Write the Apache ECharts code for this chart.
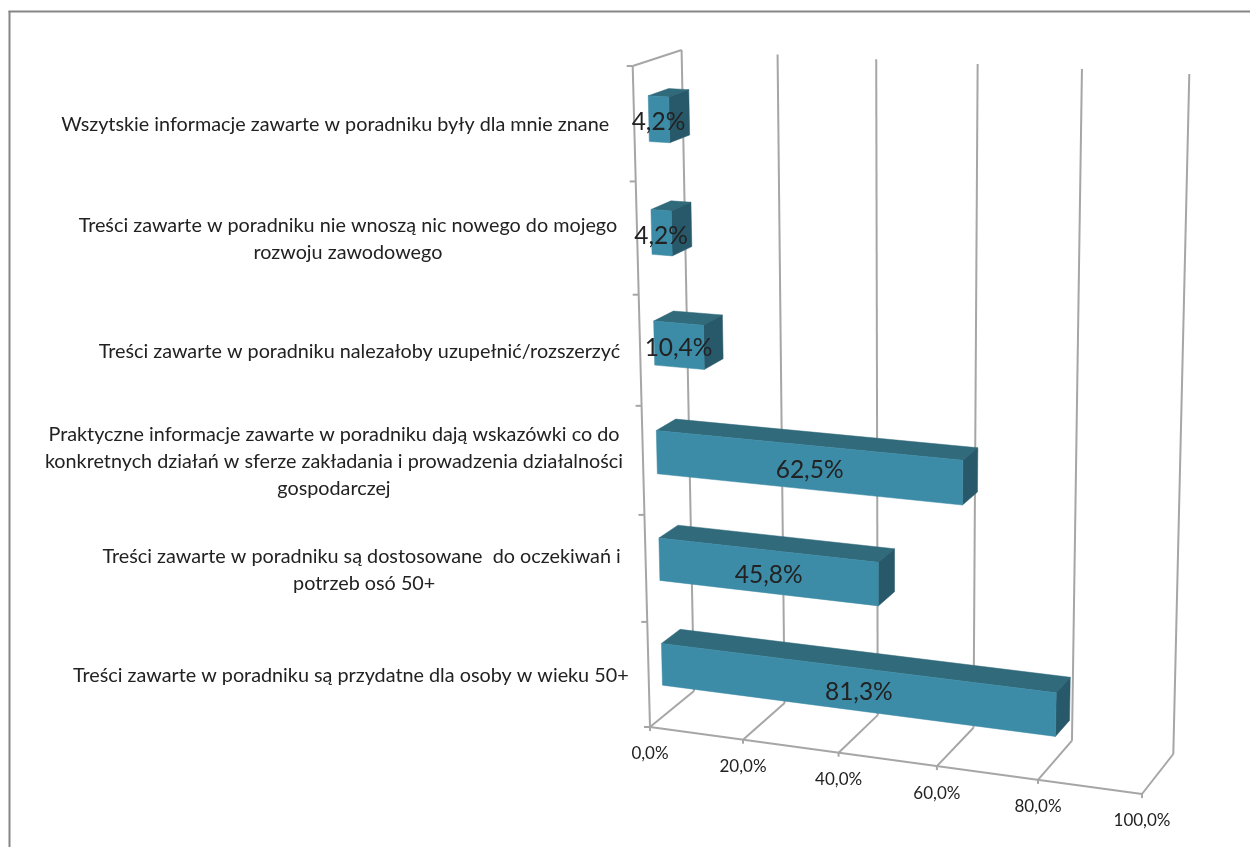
<!DOCTYPE html>
<html>
<head>
<meta charset="utf-8">
<style>html,body{margin:0;padding:0;background:#fff}#c{width:1250px;height:847px}</style>
<script src="https://cdn.jsdelivr.net/npm/echarts@6/dist/echarts.min.js"></script>
</head>
<body>
<div id="c"></div>
<script>
const categories = [
  "Wszytskie informacje zawarte w poradniku były dla mnie znane ",
  "Treści zawarte w poradniku nie wnoszą nic nowego do mojego\nrozwoju zawodowego",
  "Treści zawarte w poradniku nalezałoby uzupełnić/rozszerzyć",
  "Praktyczne informacje zawarte w poradniku dają wskazówki co do\nkonkretnych działań w sferze zakładania i prowadzenia działalności\ngospodarczej",
  "Treści zawarte w poradniku są dostosowane  do oczekiwań i \npotrzeb osó 50+",
  "Treści zawarte w poradniku są przydatne dla osoby w wieku 50+"
];
const values = [4.2, 4.2, 10.4, 62.5, 45.8, 81.3];
const valueTicks = [0, 20, 40, 60, 80, 100];

// Projection of the flat cartesian grid onto the drawn 3D box
const box = {
  flt: [632.7, 66], flb: [650, 727], frb: [1142, 794], frt: [1164, 94],
  blt: [681.6, 50], blb: [694, 691], brb: [1173.3, 754], brt: [1189.3, 74]
};
const warpV = 1.0725, warpU = 1.058;
const warp = (t, k) => t / (t + k * (1 - t));
const mix = (a, b, t) => [a[0] + (b[0] - a[0]) * t, a[1] + (b[1] - a[1]) * t];
function project(params, p, d) {
  const c = params.coordSys;
  const v = warp((p[0] - c.x) / c.width, warpV);
  const u = warp(1 - (p[1] - c.y) / c.height, warpU);
  const front = mix(mix(box.flb, box.frb, v), mix(box.flt, box.frt, v), u);
  const back = mix(mix(box.blb, box.brb, v), mix(box.blt, box.brt, v), u);
  return mix(front, back, d);
}
const FONT = "Lato";
const LINE = "#a6a6a6", LW = 2;
const TEXT = "#222222";
const line = (a, b) => ({type: 'line', silent: true, shape: {x1: a[0], y1: a[1], x2: b[0], y2: b[1]},
  style: {stroke: LINE, lineWidth: LW, fill: null}});
const label = (s, p, size, align) => ({type: 'text', silent: true, z2: 50, style: {
  text: s, x: p[0], y: p[1], align: align || 'center', verticalAlign: 'middle',
  textAlign: align || 'center', textVerticalAlign: 'middle',
  fontFamily: FONT, fontSize: size, fill: TEXT, lineHeight: 27}});
const poly = (pts, fill) => ({type: 'polygon', shape: {points: pts}, style: {fill: fill, stroke: fill, lineWidth: 0.5}});
const fmt = v => v.toFixed(1).replace('.', ',') + '%';

const measure = document.createElement('canvas').getContext('2d');
const CAT_SIZE = 19.8, VAL_SIZE = 17, BAR_SIZE = 24.5;

function renderValueAxis(params, api) {
  const v = api.value(0);
  const last = categories.length - 1;
  const bot = api.coord([v, last]), top = api.coord([v, 0]);
  const band = api.size([0, 1])[1];
  const pb = [bot[0], bot[1] + band / 2], pt = [top[0], top[1] - band / 2];
  const fb = project(params, pb, 0), bb = project(params, pb, 1), bt = project(params, pt, 1);
  const kids = [line(fb, bb), line(bb, bt), line(fb, [fb[0], fb[1] + 4]),
    label(fmt(v), [fb[0], fb[1] + 27], VAL_SIZE)];
  if (v === valueTicks[0]) {
    const e = api.coord([valueTicks[valueTicks.length - 1], last]);
    const pe = [e[0], e[1] + band / 2];
    kids.push(line(fb, project(params, pe, 0)));
    kids.push(line(fb, project(params, pt, 0)));
    kids.push(line(project(params, pt, 0), bt));
  }
  return {type: 'group', children: kids};
}

function renderCategoryAxis(params, api) {
  const i = api.value(1);
  const p = api.coord([valueTicks[0], i]);
  const band = api.size([0, 1])[1];
  const tick = y => { const a = project(params, [p[0], y], 0); return line(a, [a[0] - 6, a[1]]); };
  const kids = [tick(p[1] - band / 2)];
  if (i === categories.length - 1) kids.push(tick(p[1] + band / 2));
  const a = project(params, p, 0);
  measure.font = CAT_SIZE + 'px ' + FONT;
  const name = categories[i];
  const w = Math.max.apply(null, name.split('\n').map(s => measure.measureText(s).width));
  kids.push(label(name, [a[0] - 20 - w / 2, a[1] + 1], CAT_SIZE));
  return {type: 'group', children: kids};
}

function renderBar(params, api) {
  const val = api.value(0), i = api.value(1);
  const s = api.coord([0, i]), e = api.coord([val, i]);
  const band = api.size([0, 1])[1];
  const h = band * 0.2, d1 = 0.3, d2 = 0.72;
  const P = (x, y, d) => project(params, [x, y], d);
  const y1 = s[1] - h, y2 = s[1] + h;
  const front = [P(s[0], y1, d1), P(e[0], y1, d1), P(e[0], y2, d1), P(s[0], y2, d1)];
  const topF = [P(s[0], y1, d1), P(e[0], y1, d1), P(e[0], y1, d2), P(s[0], y1, d2)];
  const side = [P(e[0], y1, d1), P(e[0], y1, d2), P(e[0], y2, d2), P(e[0], y2, d1)];
  const cx = (front[0][0] + front[1][0]) / 2;
  const cy = (front[0][1] + front[1][1] + front[2][1] + front[3][1]) / 4;
  return {type: 'group', children: [
    poly(topF, '#306a7b'), poly(side, '#27596a'), poly(front, '#3c8ba7'),
    label(fmt(val), [cx, cy + 3], BAR_SIZE)
  ]};
}

const chart = echarts.init(document.getElementById('c'), null, {renderer: 'canvas'});
chart.setOption({
  animation: false,
  backgroundColor: '#ffffff',
  grid: {left: 650, right: 100, top: 66, bottom: 120},
  xAxis: {type: 'value', min: valueTicks[0], max: valueTicks[valueTicks.length - 1], interval: 20, show: false},
  yAxis: {type: 'category', data: categories, inverse: true, show: false},
  graphic: [
    {type: 'line', silent: true, shape: {x1: 9.5, y1: 11, x2: 9.5, y2: 847}, style: {stroke: '#868686', lineWidth: 2}},
    {type: 'line', silent: true, shape: {x1: 8.5, y1: 11.5, x2: 1250, y2: 11.5}, style: {stroke: '#868686', lineWidth: 2}}
  ],
  series: [
    {type: 'custom', name: 'osie', coordinateSystem: 'cartesian2d', clip: false, silent: true, z: 1,
     encode: {x: 0, y: 1}, data: valueTicks.map(v => [v, 0]), renderItem: renderValueAxis},
    {type: 'custom', name: 'kategorie', coordinateSystem: 'cartesian2d', clip: false, silent: true, z: 1,
     encode: {x: 0, y: 1}, data: categories.map((c, i) => [0, i]), renderItem: renderCategoryAxis},
    {type: 'custom', name: 'odpowiedzi', coordinateSystem: 'cartesian2d', clip: false, z: 2,
     encode: {x: 0, y: 1}, data: values.map((v, i) => [v, i]), renderItem: renderBar}
  ]
});
</script>
</body>
</html>
